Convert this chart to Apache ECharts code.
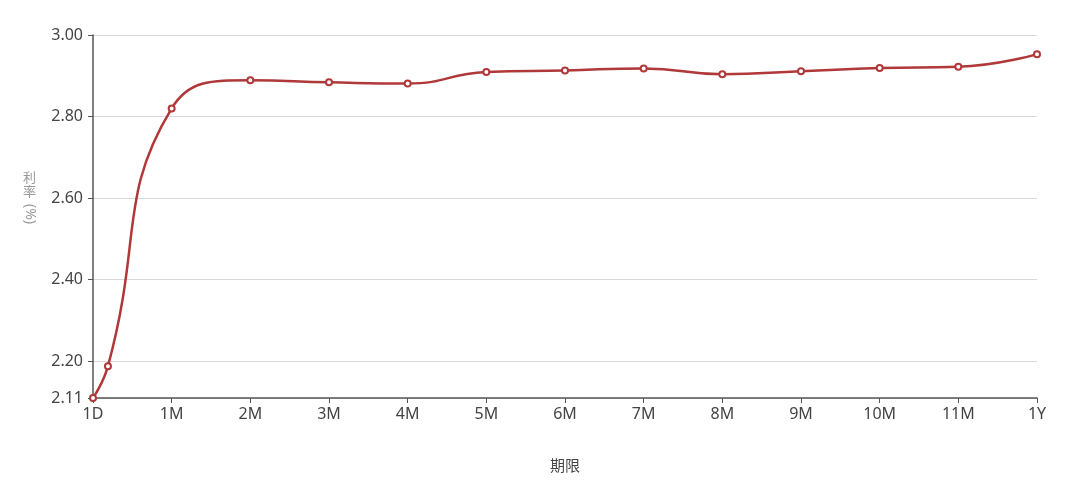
<!DOCTYPE html>
<html><head><meta charset="utf-8">
<script src="https://cdn.jsdelivr.net/npm/echarts@6/dist/echarts.min.js"></script>
<style>html,body{margin:0;padding:0;background:#fff;}#c{width:1080px;height:494px;}</style>
</head><body><div id="c"></div>
<script>
// tick labels for x axis (months 0..12)
const tickLabels = ['1D','1M','2M','3M','4M','5M','6M','7M','8M','9M','10M','11M','1Y'];
// term positions (in months) of each point
const termPos = [0, 0.19, 1, 2, 3, 4, 5, 6, 7, 8, 9, 10, 11, 12];
// rates (%)
const rates = [2.11, 2.188, 2.82, 2.889, 2.884, 2.881, 2.909, 2.913, 2.918, 2.904, 2.911, 2.919, 2.922, 2.953];

const chart = echarts.init(document.getElementById('c'));
const fontFam = '"Noto Sans","Noto Sans CJK SC",sans-serif';
const cjkFam = '"Noto Sans CJK SC",sans-serif';
chart.setOption({
  animation: false,
  backgroundColor: '#fff',
  grid: {left: 93, right: 43, top: 35, bottom: 96},
  xAxis: {
    type: 'value', min: 0, max: 12, interval: 1,
    name: '期限', nameLocation: 'middle', nameGap: 60,
    nameTextStyle: {color: '#444', fontSize: 15, fontFamily: cjkFam},
    axisLine: {lineStyle: {color: '#555', width: 1.5}},
    axisTick: {show: true, length: 5, lineStyle: {color: '#555'}},
    axisLabel: {color: '#444', fontSize: 16, fontFamily: fontFam, margin: 8,
      formatter: v => tickLabels[Math.round(v)]},
    splitLine: {show: false}
  },
  yAxis: {
    type: 'value', min: 2.11, max: 3.0, splitNumber: 5,
    axisLine: {show: true, lineStyle: {color: '#555', width: 1.5}},
    axisTick: {show: true, length: 5, lineStyle: {color: '#555'}},
    axisLabel: {color: '#444', fontSize: 16, fontFamily: fontFam, margin: 10,
      formatter: v => v.toFixed(2), showMinLabel: true, showMaxLabel: true},
    splitLine: {lineStyle: {color: '#d9d9d9', width: 1}}
  },
  graphic: [
    {type: 'text', x: 23, y: 171, style: {text: '利', fill: '#999', font: '13px ' + cjkFam}},
    {type: 'text', x: 23, y: 185, style: {text: '率', fill: '#999', font: '13px ' + cjkFam}},
    {type: 'text', x: 37, y: 204, rotation: -Math.PI / 2, style: {text: '(%)', fill: '#999', font: '14px ' + fontFam}}
  ],
  series: [{
    type: 'line', smooth: true,
    data: termPos.map((x, i) => [x, rates[i]]),
    symbol: 'emptyCircle', symbolSize: 6,
    lineStyle: {color: '#b03838', width: 2.5},
    itemStyle: {color: '#b03838', borderWidth: 1.2}
  }]
});
</script>
</body></html>
